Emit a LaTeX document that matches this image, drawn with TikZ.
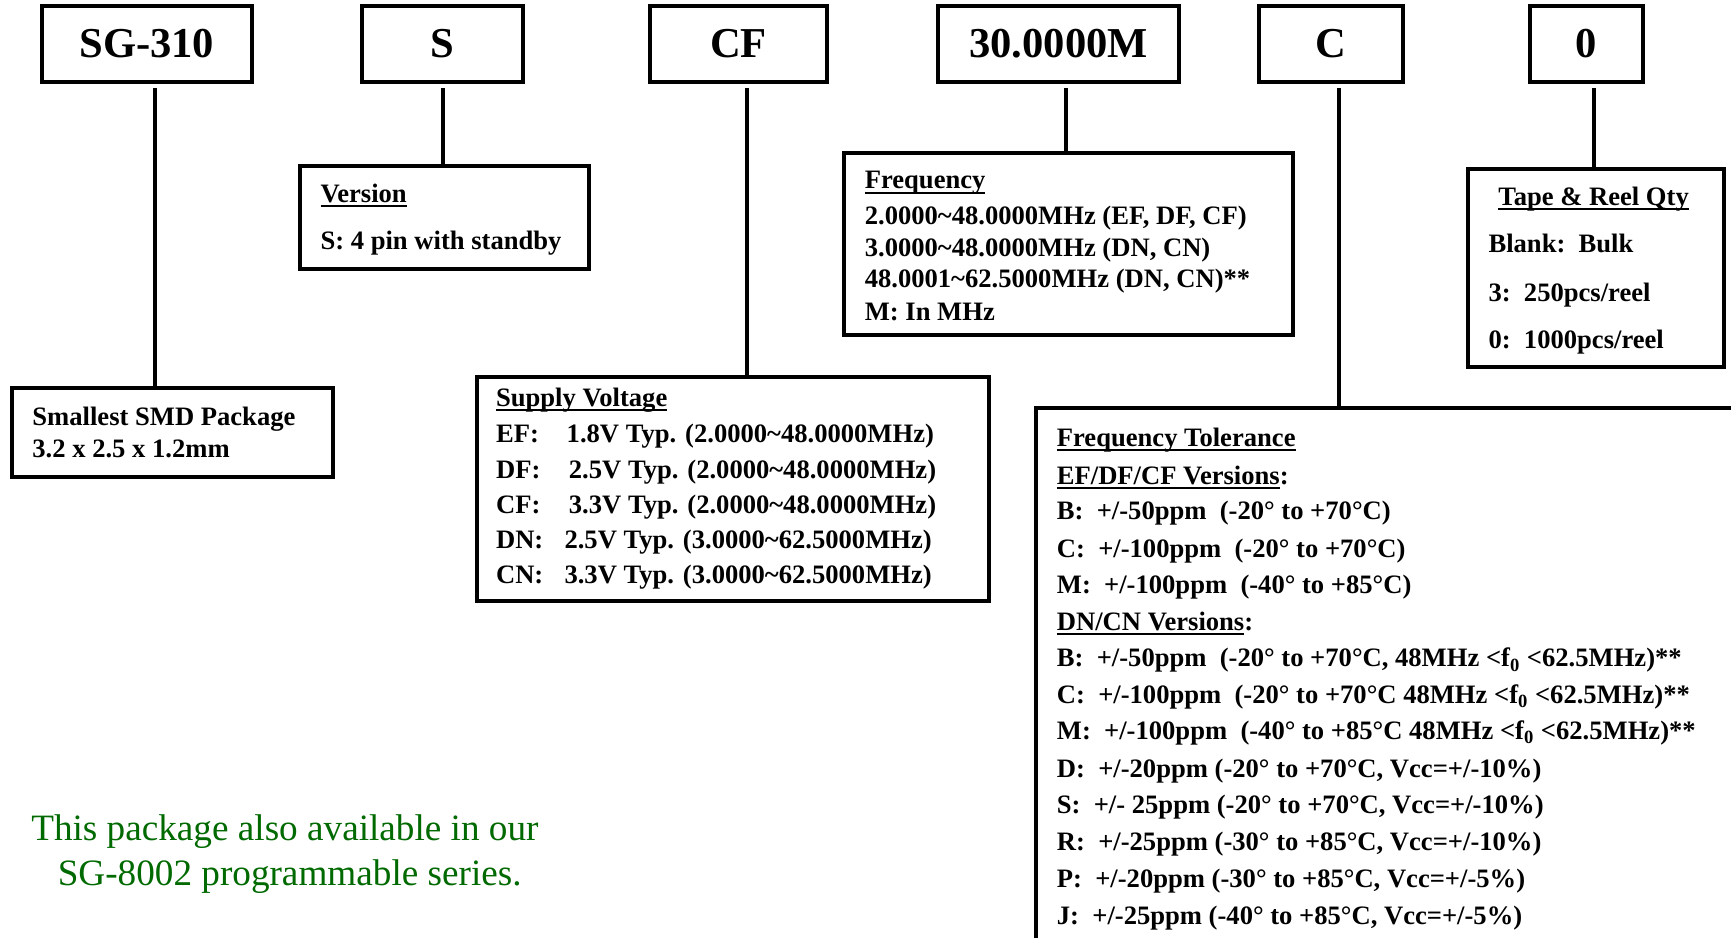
\documentclass[tikz,border=0pt]{standalone}
\usepackage{fontspec}
\setmainfont{Liberation Serif}
\definecolor{grn}{RGB}{0,105,0}
\newcommand\hdr[1]{\setbox0\hbox{#1}\rlap{\rule[-2.4pt]{\wd0}{1pt}}\box0}
\newcommand\fz{f\textsubscript{0}}
\begin{document}
\begin{tikzpicture}[x=0.552pt,y=-0.552pt,
  topbox/.style={draw, line width=2pt, inner sep=0pt, font=\fontsize{21.3}{25}\selectfont\bfseries},
  infobox/.style={draw, line width=2pt, inner sep=0pt, anchor=north west},
  txt/.style={anchor=base west, inner sep=0pt, font=\fontsize{13.3}{16}\selectfont\bfseries},
  note/.style={anchor=base west, inner sep=0pt, text=grn, font=\fontsize{18.6}{22}\selectfont},
  conn/.style={line width=2pt}]
\useasboundingbox (0,0) rectangle (1568,848.8);
\clip (0,0) rectangle (1568,848.8);

% top code boxes
\node[topbox, minimum width=190*0.552pt, minimum height=69*0.552pt] (sg)  at (133,39.5)   {SG-310};
\node[topbox, minimum width=146*0.552pt, minimum height=69*0.552pt] (ver) at (401,39.5)   {S};
\node[topbox, minimum width=160*0.552pt, minimum height=69*0.552pt] (cf)  at (669,39.5)   {CF};
\node[topbox, minimum width=218*0.552pt, minimum height=69*0.552pt] (fr)  at (959,39.5)   {30.0000M};
\node[topbox, minimum width=131*0.552pt, minimum height=69*0.552pt] (tl)  at (1205.5,39.5){C};
\node[topbox, minimum width=102*0.552pt, minimum height=69*0.552pt] (qt)  at (1437,39.5)  {0};

% description boxes
\node[infobox, minimum width=291*0.552pt, minimum height=80*0.552pt]  (bsmd) at (9,350) {};
\node[infobox, minimum width=262*0.552pt, minimum height=93*0.552pt]  (bver) at (270,149) {};
\node[infobox, minimum width=406*0.552pt, minimum height=165*0.552pt] (bfrq) at (763,137) {};
\node[infobox, minimum width=464*0.552pt, minimum height=203*0.552pt] (bsup) at (430,340) {};
\node[infobox, minimum width=232*0.552pt, minimum height=180*0.552pt] (btap) at (1328,151) {};
\node[infobox, minimum width=800*0.552pt, minimum height=700*0.552pt] (btol) at (937,368) {};

% connectors
\coordinate (k1) at (140,80);
\coordinate (k2) at (401,80);
\coordinate (k3) at (677,80);
\coordinate (k4) at (966,80);
\coordinate (k5) at (1213,80);
\coordinate (k6) at (1444,80);
\draw[conn] (k1) -- (k1 |- bsmd.north);
\draw[conn] (k2) -- (k2 |- bver.north);
\draw[conn] (k3) -- (k3 |- bsup.north);
\draw[conn] (k4) -- (k4 |- bfrq.north);
\draw[conn] (k5) -- (k5 |- btol.north);
\draw[conn] (k6) -- (k6 |- btap.north);

% Smallest SMD
\node[txt] (m1) at (29,385) {Smallest SMD Package};
\node[txt] (m2) at (29,414) {3.2 x 2.5 x 1.2mm};

% Version
\node[txt] (v1) at (290,183) {\hdr{Version}};
\node[txt] (v2) at (290,226) {S: 4 pin with standby};

% Frequency
\node[txt] (f1) at (783,171) {\hdr{Frequency}};
\node[txt] (f2) at (783,203) {2.0000\textasciitilde48.0000MHz (EF, DF, CF)};
\node[txt] (f3) at (783,232) {3.0000\textasciitilde48.0000MHz (DN, CN)};
\node[txt] (f4) at (783,260) {48.0001\textasciitilde62.5000MHz (DN, CN)**};
\node[txt] (f5) at (783,290) {M: In MHz};

% Supply voltage
\node[txt] (s0) at (449,368) {\hdr{Supply Voltage}};
\node[txt] (s1) at (449,401) {EF:};
\node[txt] (s1v) at (513,401) {1.8V Typ. (2.0000\textasciitilde48.0000MHz)};
\node[txt] (s2) at (449,433) {DF:};
\node[txt] (s2v) at (515,433) {2.5V Typ. (2.0000\textasciitilde48.0000MHz)};
\node[txt] (s3) at (449,465) {CF:};
\node[txt] (s3v) at (515,465) {3.3V Typ. (2.0000\textasciitilde48.0000MHz)};
\node[txt] (s4) at (449,497) {DN:};
\node[txt] (s4v) at (511,497) {2.5V Typ. (3.0000\textasciitilde62.5000MHz)};
\node[txt] (s5) at (449,529) {CN:};
\node[txt] (s5v) at (511,529) {3.3V Typ. (3.0000\textasciitilde62.5000MHz)};

% Tape & Reel
\node[txt] (q1) at (1357,186) {\hdr{Tape \& Reel Qty}};
\node[txt] (q2) at (1348,229) {Blank:\ \ Bulk};
\node[txt] (q3) at (1348,273) {3:\ \ 250pcs/reel};
\node[txt] (q4) at (1348,316) {0:\ \ 1000pcs/reel};

% Frequency tolerance
\node[txt] (t1)  at (957,404) {\hdr{Frequency Tolerance}};
\node[txt] (t2)  at (957,439) {\hdr{EF/DF/CF Versions}:};
\node[txt] (t3)  at (957,471) {B:\ \ +/-50ppm\ \ (-20° to +70°C)};
\node[txt] (t4)  at (957,505) {C:\ \ +/-100ppm\ \ (-20° to +70°C)};
\node[txt] (t5)  at (957,538) {M:\ \ +/-100ppm\ \ (-40° to +85°C)};
\node[txt] (t6)  at (957,571) {\hdr{DN/CN Versions}:};
\node[txt] (t7)  at (957,604) {B:\ \ +/-50ppm\ \ (-20° to +70°C, 48MHz <\fz{} <62.5MHz)**};
\node[txt] (t8)  at (957,637) {C:\ \ +/-100ppm\ \ (-20° to +70°C 48MHz <\fz{} <62.5MHz)**};
\node[txt] (t9)  at (957,670) {M:\ \ +/-100ppm\ \ (-40° to +85°C 48MHz <\fz{} <62.5MHz)**};
\node[txt] (t10) at (957,704) {D:\ \ +/-20ppm (-20° to +70°C, Vcc=+/-10\%)};
\node[txt] (t11) at (957,737) {S:\ \ +/- 25ppm (-20° to +70°C, Vcc=+/-10\%)};
\node[txt] (t12) at (957,770) {R:\ \ +/-25ppm (-30° to +85°C, Vcc=+/-10\%)};
\node[txt] (t13) at (957,804) {P:\ \ +/-20ppm (-30° to +85°C, Vcc=+/-5\%)};
\node[txt] (t14) at (957,837) {J:\ \ +/-25ppm (-40° to +85°C, Vcc=+/-5\%)};

% note
\node[note] (n1) at (28,761) {This package also available in our};
\node[note] (n2) at (52,802) {SG-8002 programmable series.};
\end{tikzpicture}
\end{document}
